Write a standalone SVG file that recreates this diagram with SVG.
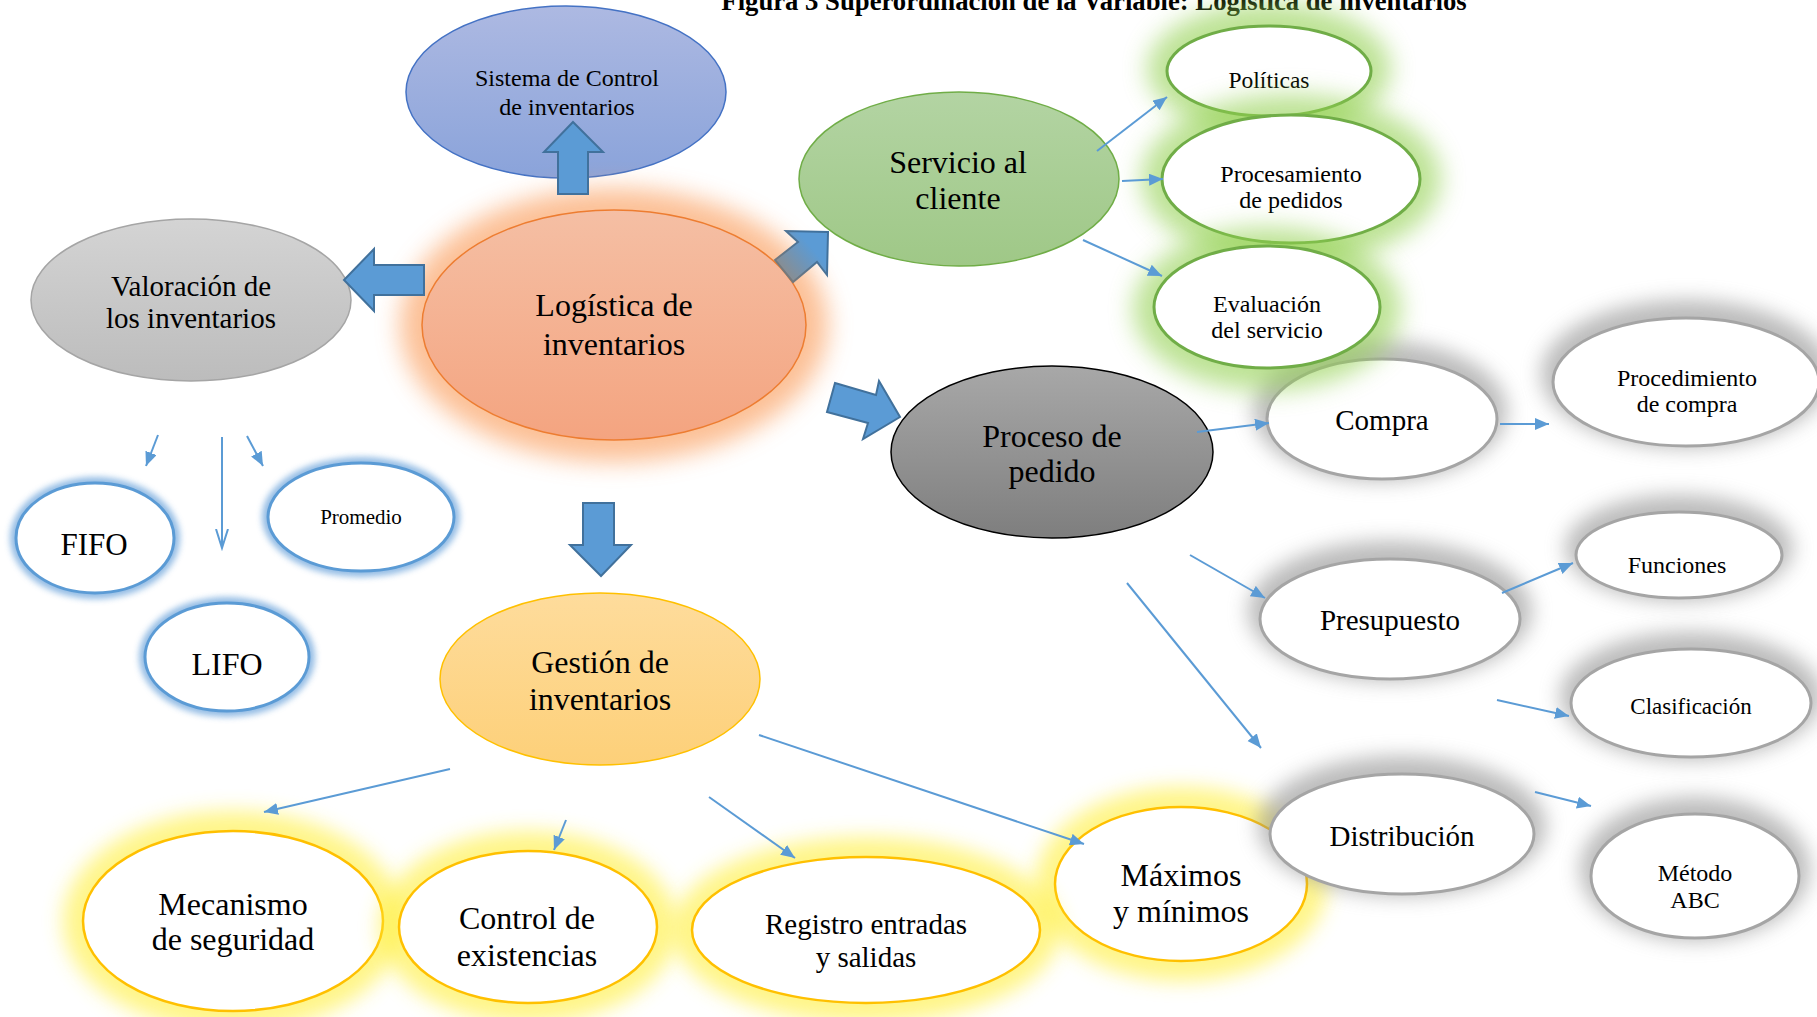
<svg xmlns="http://www.w3.org/2000/svg" width="1817" height="1017" viewBox="0 0 1817 1017">
<style>
text{font-family:"Liberation Serif","Times New Roman",serif;fill:#000;text-anchor:middle}
.t32{font-size:32px}.t29{font-size:29px}.t24{font-size:24px}
.thin{stroke:#5b9bd5;stroke-width:2;fill:none}
.ah{marker-end:url(#ah)}
.block{fill:#5b9bd5;stroke:#41719c;stroke-width:2;stroke-linejoin:miter}
.wg{fill:#fff;stroke:#70ad47;stroke-width:3}
.wgr{fill:#fff;stroke:#a5a5a5;stroke-width:3}
.wb{fill:#fff;stroke:#5b9bd5;stroke-width:3}
.wy{fill:#fff;stroke:#ffc000;stroke-width:2.5}
.gG{fill:#92d050;opacity:.6;filter:url(#b12)}
.gY{fill:#ffef3a;opacity:.6;filter:url(#b10)}
.gB{fill:#6fa6dc;opacity:.75;filter:url(#b3)}
.gS{fill:#8f8f8f;opacity:.6;filter:url(#b10)}
.gO{fill:#fba66a;opacity:.7;filter:url(#b12)}
</style>
<defs>
<filter id="b3" x="-30%" y="-30%" width="160%" height="160%"><feGaussianBlur stdDeviation="3"/></filter>
<filter id="b10" x="-30%" y="-30%" width="160%" height="160%"><feGaussianBlur stdDeviation="10"/></filter>
<filter id="b12" x="-30%" y="-30%" width="160%" height="160%"><feGaussianBlur stdDeviation="12"/></filter>
<linearGradient id="gBlue" x1="0" y1="0" x2="0" y2="1"><stop offset="0" stop-color="#adb9e2"/><stop offset="1" stop-color="#8aa3da"/></linearGradient>
<linearGradient id="gSal" x1="0" y1="0" x2="0" y2="1"><stop offset="0" stop-color="#f5bfa4"/><stop offset="1" stop-color="#f4a480"/></linearGradient>
<linearGradient id="gGray" x1="0" y1="0" x2="0" y2="1"><stop offset="0" stop-color="#d4d4d4"/><stop offset="1" stop-color="#bcbcbc"/></linearGradient>
<linearGradient id="gGreen" x1="0" y1="0" x2="0" y2="1"><stop offset="0" stop-color="#b3d4a3"/><stop offset="1" stop-color="#9fc887"/></linearGradient>
<linearGradient id="gDark" x1="0" y1="0" x2="0" y2="1"><stop offset="0" stop-color="#a8a8a8"/><stop offset="1" stop-color="#7e7e7e"/></linearGradient>
<linearGradient id="gGold" x1="0" y1="0" x2="0" y2="1"><stop offset="0" stop-color="#fedc9c"/><stop offset="1" stop-color="#fdd079"/></linearGradient>
<linearGradient id="gDiag" gradientUnits="userSpaceOnUse" x1="782" y1="274" x2="812" y2="248"><stop offset="0" stop-color="#8c8c8c"/><stop offset="1" stop-color="#5b9bd5"/></linearGradient>
<linearGradient id="gDiagS" gradientUnits="userSpaceOnUse" x1="782" y1="274" x2="812" y2="248"><stop offset="0" stop-color="#7a7a7a"/><stop offset="1" stop-color="#41719c"/></linearGradient>
<marker id="ah" markerUnits="userSpaceOnUse" markerWidth="16" markerHeight="14" refX="14" refY="6" orient="auto"><path d="M0,0 L14,6 L0,12 Z" fill="#5b9bd5"/></marker>
<marker id="av" markerUnits="userSpaceOnUse" markerWidth="22" markerHeight="16" refX="19" refY="7" orient="auto"><path d="M0,1 L19,7 L0,13" fill="none" stroke="#5b9bd5" stroke-width="2"/></marker>
</defs>

<text x="1094" y="10" style="font-size:26.7px;font-weight:bold">Figura 3 Superordinación de la Variable: Logística de inventarios</text>

<g id="node-sistema">
<ellipse cx="566" cy="92" rx="160" ry="86" fill="url(#gBlue)" stroke="#4472c4" stroke-width="1.5"/>
<text class="t24" x="567" y="86">Sistema de Control</text>
<text class="t24" x="567" y="115">de inventarios</text>
</g>

<g id="node-logistica">
<ellipse class="gO" cx="614" cy="325" rx="214" ry="137"/>
<ellipse cx="614" cy="325" rx="192" ry="115" fill="url(#gSal)" stroke="#ed7d31" stroke-width="1.5"/>
<text class="t32" x="614" y="316">Logística de</text>
<text class="t32" x="614" y="355">inventarios</text>
</g>

<g id="node-valoracion">
<ellipse cx="191" cy="300" rx="160" ry="81" fill="url(#gGray)" stroke="#a5a5a5" stroke-width="1.5"/>
<text class="t29" x="191" y="296">Valoración de</text>
<text class="t29" x="191" y="328">los inventarios</text>
</g>

<g id="node-servicio">
<ellipse cx="959" cy="179" rx="160" ry="87" fill="url(#gGreen)" stroke="#70ad47" stroke-width="1.5"/>
<text class="t32" x="958" y="173">Servicio al</text>
<text class="t32" x="958" y="209">cliente</text>
</g>

<g id="node-politicas">
<ellipse class="gG" cx="1269" cy="69" rx="122" ry="66"/>
<ellipse class="wg" cx="1269" cy="71" rx="102" ry="45"/>
<text x="1269" y="88" style="font-size:23.5px">Políticas</text>
</g>

<g id="node-procesamiento">
<ellipse class="gG" cx="1291" cy="179" rx="150" ry="85"/>
<ellipse class="wg" cx="1291" cy="179" rx="129" ry="64"/>
<text class="t24" x="1291" y="182">Procesamiento</text>
<text class="t24" x="1291" y="208">de pedidos</text>
</g>

<g id="node-compra">
<ellipse class="gS" cx="1380" cy="411" rx="127" ry="70"/>
<ellipse class="wgr" cx="1382" cy="419" rx="115" ry="60"/>
<text class="t29" x="1382" y="430">Compra</text>
</g>

<g id="node-evaluacion">
<ellipse class="gG" cx="1267" cy="309" rx="134" ry="82"/>
<ellipse class="wg" cx="1267" cy="307" rx="113" ry="61"/>
<text class="t24" x="1267" y="312">Evaluación</text>
<text class="t24" x="1267" y="338">del servicio</text>
</g>

<g id="node-procedimiento">
<ellipse class="gS" cx="1686" cy="374" rx="145" ry="74"/>
<ellipse class="wgr" cx="1686" cy="382" rx="133" ry="64"/>
<text class="t24" x="1687" y="386">Procedimiento</text>
<text class="t24" x="1687" y="412">de compra</text>
</g>

<g id="node-proceso">
<ellipse cx="1052" cy="452" rx="161" ry="86" fill="url(#gDark)" stroke="#000" stroke-width="1.5"/>
<text class="t32" x="1052" y="447">Proceso de</text>
<text class="t32" x="1052" y="482">pedido</text>
</g>

<g id="node-presupuesto">
<ellipse class="gS" cx="1390" cy="611" rx="142" ry="70"/>
<ellipse class="wgr" cx="1390" cy="619" rx="130" ry="60"/>
<text class="t29" x="1390" y="630">Presupuesto</text>
</g>

<g id="node-funciones">
<ellipse class="gS" cx="1679" cy="548" rx="114" ry="53"/>
<ellipse class="wgr" cx="1679" cy="555" rx="103" ry="43"/>
<text class="t24" x="1677" y="573">Funciones</text>
</g>

<g id="node-clasificacion">
<ellipse class="gS" cx="1691" cy="696" rx="131" ry="64"/>
<ellipse class="wgr" cx="1691" cy="703" rx="120" ry="54"/>
<text x="1691" y="714" style="font-size:23px">Clasificación</text>
</g>

<g id="node-maximos">
<ellipse class="gY" cx="1181" cy="884" rx="146" ry="97"/>
<ellipse class="wy" cx="1181" cy="884" rx="126" ry="77"/>
<text class="t32" x="1181" y="886">Máximos</text>
<text class="t32" x="1181" y="922">y mínimos</text>
</g>

<g id="node-distribucion">
<ellipse class="gS" cx="1402" cy="826" rx="144" ry="70"/>
<ellipse class="wgr" cx="1402" cy="834" rx="132" ry="60"/>
<text class="t29" x="1402" y="846">Distribución</text>
</g>

<g id="node-metodo">
<ellipse class="gS" cx="1695" cy="869" rx="115" ry="72"/>
<ellipse class="wgr" cx="1695" cy="876" rx="104" ry="62"/>
<text class="t24" x="1695" y="881">Método</text>
<text class="t24" x="1695" y="908">ABC</text>
</g>

<g id="node-gestion">
<ellipse cx="600" cy="679" rx="160" ry="86" fill="url(#gGold)" stroke="#ffc000" stroke-width="1.5"/>
<text class="t32" x="600" y="673">Gestión de</text>
<text class="t32" x="600" y="710">inventarios</text>
</g>

<g id="node-mecanismo">
<ellipse class="gY" cx="233" cy="921" rx="170" ry="110"/>
<ellipse class="wy" cx="233" cy="921" rx="150" ry="90"/>
<text class="t32" x="233" y="915">Mecanismo</text>
<text class="t32" x="233" y="950">de seguridad</text>
</g>

<g id="node-control">
<ellipse class="gY" cx="528" cy="927" rx="149" ry="96"/>
<ellipse class="wy" cx="528" cy="927" rx="129" ry="76"/>
<text class="t32" x="527" y="929">Control de</text>
<text class="t32" x="527" y="966">existencias</text>
</g>

<g id="node-registro">
<ellipse class="gY" cx="866" cy="930" rx="194" ry="93"/>
<ellipse class="wy" cx="866" cy="930" rx="174" ry="73"/>
<text class="t29" x="866" y="934">Registro entradas</text>
<text class="t29" x="866" y="967">y salidas</text>
</g>

<g id="node-fifo">
<ellipse class="gB" cx="95" cy="538" rx="85" ry="61"/>
<ellipse class="wb" cx="95" cy="538" rx="79" ry="55"/>
<text x="94" y="555" style="font-size:31px">FIFO</text>
</g>

<g id="node-promedio">
<ellipse class="gB" cx="361" cy="517" rx="99" ry="60"/>
<ellipse class="wb" cx="361" cy="517" rx="93" ry="54"/>
<text x="361" y="524" style="font-size:21px">Promedio</text>
</g>

<g id="node-lifo">
<ellipse class="gB" cx="227" cy="657" rx="88" ry="60"/>
<ellipse class="wb" cx="227" cy="657" rx="82" ry="54"/>
<text class="t32" x="227" y="675">LIFO</text>
</g>

<g id="connectors">
<path class="block" d="M573,122 L603,152 L588,152 L588,194 L558,194 L558,152 L544,152 Z"/>
<path class="block" d="M344,280 L374,249 L374,265 L424,265 L424,295 L374,295 L374,311 Z"/>
<path d="M775,260 L798,242 L786,231 L828,232 L827,275 L817,262 L793,282 Z" fill="url(#gDiag)" stroke="url(#gDiagS)" stroke-width="2"/>
<path class="block" d="M835,383 L876,395 L879,381 L900,417 L863,439 L868,423 L827,412 Z"/>
<path class="block" d="M583,503 L614,503 L614,545 L631,545 L601,576 L570,545 L583,545 Z"/>

<line class="thin ah" x1="1097" y1="151" x2="1167" y2="97"/>
<line class="thin ah" x1="1122" y1="181" x2="1163" y2="179"/>
<line class="thin ah" x1="1083" y1="240" x2="1162" y2="276"/>
<line class="thin ah" x1="1197" y1="432" x2="1269" y2="423"/>
<line class="thin ah" x1="1500" y1="424" x2="1549" y2="424"/>
<line class="thin ah" x1="1190" y1="555" x2="1265" y2="598"/>
<line class="thin ah" x1="1127" y1="583" x2="1261" y2="748"/>
<line class="thin ah" x1="1502" y1="593" x2="1573" y2="563"/>
<line class="thin ah" x1="1497" y1="700" x2="1569" y2="716"/>
<line class="thin ah" x1="1535" y1="792" x2="1591" y2="806"/>
<line class="thin ah" x1="759" y1="735" x2="1084" y2="844"/>
<line class="thin ah" x1="450" y1="769" x2="264" y2="812"/>
<line class="thin ah" x1="566" y1="820" x2="554" y2="850"/>
<line class="thin ah" x1="709" y1="797" x2="795" y2="858"/>
<line class="thin ah" x1="158" y1="435" x2="146" y2="466"/>
<line class="thin" x1="222" y1="437" x2="222" y2="548" marker-end="url(#av)"/>
<line class="thin ah" x1="247" y1="436" x2="263" y2="466"/>
</g>
</svg>
